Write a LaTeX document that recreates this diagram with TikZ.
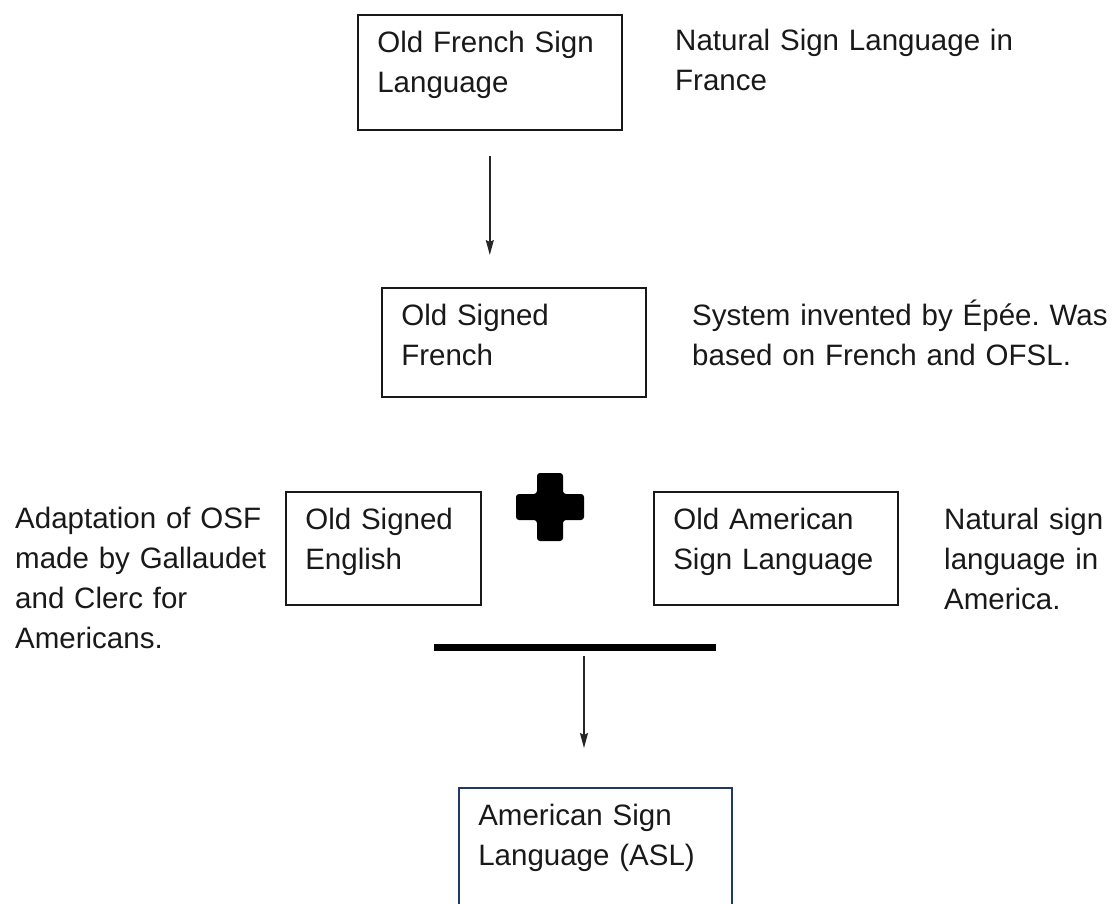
\documentclass[tikz,border=0pt]{standalone}
\usepackage{fontspec}
\setmainfont{Liberation Sans}
\usetikzlibrary{arrows.meta,positioning}
\definecolor{aslblue}{RGB}{31,56,100}
\frenchspacing

\begin{document}
\begin{tikzpicture}[x=1pt,y=-1pt,
        font=\fontsize{29.5}{40}\selectfont,
        box/.style={draw=black!90, line width=1.6pt, anchor=north west, align=left,
                inner xsep=19.5pt, inner ysep=16pt, text=black!90},
        note/.style={anchor=base west, align=left, inner sep=0pt, text=black!90},
        flow/.style={draw=black!85, line width=1.4pt,
                -{Stealth[length=15pt,width=8pt,inset=2pt]}}]
        \useasboundingbox (0,0) rectangle (1112,904);

        % top row
        \node[box, text width=225pt, text depth=62pt] (ofsl) at (357,14)
                {Old French Sign\\Language};
        \node[note, text width=430pt] (ofsl note) at (675,51)
                {Natural Sign Language in\\France};

        \node[box, text width=225pt, text depth=56pt] (osf) at (381,287)
                {Old Signed\\French};
        \node[note, text width=520pt] (osf note) at (692,326)
                {System invented by Épée. Was\\based on French and OFSL.};

        \draw[flow, shorten <=25pt, shorten >=32pt] (ofsl.south) -- (ofsl.south |- osf.north);

        % middle row
        \node[box, text width=156pt, text depth=60pt] (ose) at (285,491)
                {Old Signed\\English};
        \node[box, text width=205pt, text depth=60pt] (oasl) at (653,491)
                {Old American\\Sign Language};
        \node[note, text width=265pt] (ose note) at (15,528)
                {Adaptation of OSF\\made by Gallaudet\\and Clerc for\\Americans.};
        \node[note, text width=165pt] (oasl note) at (944,529)
                {Natural sign\\language in\\America.};

        \fill[black, rounded corners=3pt] (537,473) -- (563,473) -- (563,494) -- (584,494)
                -- (584,520) -- (563,520) -- (563,541) -- (537,541) -- (537,520)
                -- (516,520) -- (516,494) -- (537,494) -- cycle;

        \node[fill=black, minimum width=282pt, minimum height=7pt, inner sep=0pt] (bar)
                at (575,647.5) {};

        % result
        \node[box, draw=aslblue, text width=234pt, text depth=200pt] (asl) at (458,787)
                {American Sign\\Language (ASL)};

        \draw[flow, shorten <=5pt, shorten >=39pt] ([xshift=9pt]bar.south)
                -- ([xshift=9pt]bar.south |- asl.north);
\end{tikzpicture}
\end{document}
